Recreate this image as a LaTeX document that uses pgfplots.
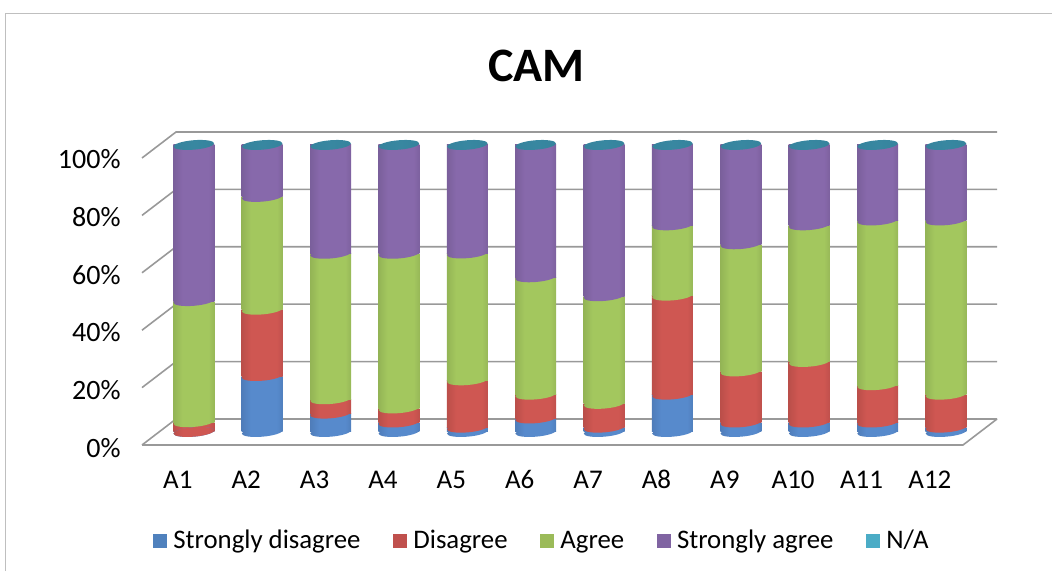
\documentclass[border=0pt]{standalone}
\usepackage{pgfplots}
\pgfplotsset{compat=1.18}
\usepackage{fontspec}
\setmainfont{Carlito}
\definecolor{cB}{RGB}{79,129,189}
\definecolor{cR}{RGB}{192,80,77}
\definecolor{cG}{RGB}{155,187,89}
\definecolor{cP}{RGB}{128,100,162}
\definecolor{cT}{RGB}{75,172,198}
\pgfdeclarehorizontalshading{shB}{100bp}{rgb(0bp)=(0.21,0.33,0.50);rgb(15bp)=(0.28,0.44,0.66);rgb(36bp)=(0.34,0.54,0.80);rgb(68bp)=(0.34,0.54,0.80);rgb(87bp)=(0.27,0.43,0.64);rgb(100bp)=(0.19,0.30,0.44)}
\pgfdeclarehorizontalshading{shR}{100bp}{rgb(0bp)=(0.50,0.21,0.20);rgb(15bp)=(0.66,0.28,0.26);rgb(36bp)=(0.81,0.34,0.32);rgb(68bp)=(0.81,0.34,0.32);rgb(87bp)=(0.65,0.27,0.26);rgb(100bp)=(0.45,0.19,0.18)}
\pgfdeclarehorizontalshading{shG}{100bp}{rgb(0bp)=(0.40,0.48,0.23);rgb(15bp)=(0.52,0.64,0.30);rgb(36bp)=(0.64,0.78,0.37);rgb(68bp)=(0.64,0.78,0.37);rgb(87bp)=(0.51,0.62,0.30);rgb(100bp)=(0.35,0.43,0.20)}
\pgfdeclarehorizontalshading{shP}{100bp}{rgb(0bp)=(0.33,0.25,0.42);rgb(15bp)=(0.43,0.34,0.55);rgb(36bp)=(0.53,0.41,0.67);rgb(68bp)=(0.53,0.41,0.67);rgb(87bp)=(0.42,0.33,0.54);rgb(100bp)=(0.29,0.23,0.37)}
\pgfdeclarehorizontalshading{shT}{100bp}{rgb(0bp)=(0.20,0.50,0.60);rgb(50bp)=(0.22,0.53,0.63);rgb(100bp)=(0.20,0.50,0.60)}
\newcommand{\capmark}[2]{\pgfdeclareplotmark{#1}{\pgfpathellipse{\pgfpointorigin}{\pgfqpoint{20.3pt}{1.7pt}}{\pgfqpoint{-0.4pt}{4.7pt}}\pgfshadepath{#2}{0}\pgfusepath{discard}}}
\capmark{cB}{shB}\capmark{cR}{shR}\capmark{cG}{shG}\capmark{cP}{shP}\capmark{cT}{shT}
\newcommand{\legsq}[1]{\addlegendimage{legend image code/.code={\fill[#1,draw=none] (0pt,-5.5pt) rectangle (14pt,8.5pt);\path[draw=none] (0pt,0pt) -- (18pt,0pt);}}}
\begin{document}
\begin{tikzpicture}[x=1pt,y=1pt]
\useasboundingbox (0,0) rectangle (1052pt,571pt);
\begin{axis}[at={(0,0)},anchor=south west,width=1052pt,height=571pt,scale only axis,
  xmin=0,xmax=1052,ymin=0,ymax=571,axis lines=none,clip=false]
% page frame
\addplot[draw=black!25,line width=0.8pt] coordinates {(5,0) (5,558) (1052,558)};
% back wall and side grid (pixel rows)
\pgfplotsinvokeforeach{0,1,2,3,4,5}{%
  \addplot[draw=black!40,line width=1.6pt] coordinates {(142,{571-445+#1*57.4}) (176,{571-419+#1*57.4}) (997,{571-419+#1*57.4})};
}
\addplot[draw=black!40,line width=1.6pt] coordinates {(142,126) (963,126) (997,152)};
\end{axis}
% tick labels, title and legend sit on the front plane
\begin{axis}[at={(159.6pt,125pt)},anchor=south west,width=820.5pt,height=288pt,scale only axis,
  xmin=-0.5,xmax=11.5,ymin=0,ymax=100,clip=false,
  axis x line*=bottom,axis y line*=left,
  axis line style={draw=none},major tick length=0pt,
  xtick={0,...,11},xticklabels={A1,A2,A3,A4,A5,A6,A7,A8,A9,A10,A11,A12},
  ytick={0,20,40,60,80,100},yticklabels={0\%,20\%,40\%,60\%,80\%,100\%},
  x tick label style={font=\fontsize{27}{27}\selectfont,xshift=-16pt,yshift=-21pt,text height=18pt,text depth=0pt},
  y tick label style={font=\fontsize{28}{28}\selectfont,xshift=-35.5pt,yshift=-2pt,text height=18pt,text depth=0pt},
  title={\fontsize{48}{48}\selectfont\bfseries CAM},
  title style={at={(0.4593,1)},anchor=base,yshift=70pt},
  legend columns=5,
  legend style={draw=none,fill=none,at={(0.466,-0.335)},anchor=center,font=\fontsize{26.8}{26.8}\selectfont,
    nodes={text height=18pt,text depth=6pt},
    /tikz/every even column/.append style={column sep=30.8pt}},
  ]
\legsq{cB}\addlegendentry{Strongly disagree}
\legsq{cR}\addlegendentry{Disagree}
\legsq{cG}\addlegendentry{Agree}
\legsq{cP}\addlegendentry{Strongly agree}
\legsq{cT}\addlegendentry{N/A}
\end{axis}
% one stacked column per axis, so that each cylinder is shaded on its own
\foreach \i/\a/\b/\c/\d in {0/0.01/3.4/42.2/54.4,1/19.5/23.1/39.3/18.1,2/6.4/5.0/50.7/37.9,3/3.3/4.9/53.9/37.9,
  4/1.5/16.5/44.2/37.8,5/4.7/8.3/40.9/46.1,6/1.5/8.3/37.5/52.7,7/13/34.5/24.5/28,
  8/3.3/17.8/44.3/34.6,9/3.3/21.1/47.6/28,10/3.3/13/57.4/26.3,11/1.5/11.5/60.7/26.3}{
\begin{axis}[at={({(159.6+68.38*\i)*1pt},139pt)},anchor=south west,width=68.38pt,height=287pt,scale only axis,
  xmin=-0.5,xmax=0.5,ymin=0,ymax=100,clip=false,axis lines=none,
  ybar stacked,reverse stacked plots=false,bar width=41pt]
\addplot[draw=none,fill=none,mark=cB] coordinates {(0,0.01)};
\addplot[draw=none,shade,shading=shB,mark=cR] coordinates {(0,\a)};
\addplot[draw=none,shade,shading=shR,mark=cG] coordinates {(0,\b)};
\addplot[draw=none,shade,shading=shG,mark=cP] coordinates {(0,\c)};
\addplot[draw=none,shade,shading=shP,mark=cT] coordinates {(0,\d)};
\end{axis}
}
\end{tikzpicture}
\end{document}
